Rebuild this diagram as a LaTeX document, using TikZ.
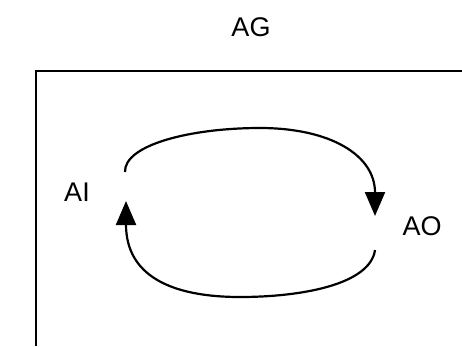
\documentclass[tikz,border=0pt]{standalone}
\usepackage{fontspec}
\setmainfont{Liberation Sans}
\usetikzlibrary{arrows.meta}
\begin{document}
\begin{tikzpicture}[x=1pt,y=-1pt,
  lbl/.style={inner sep=0pt,font=\fontsize{27}{31}\selectfont},
  frame/.style={line width=2pt},
  arc/.style={line width=2.2pt,-{Triangle[length=24pt,width=20pt]}}]
\useasboundingbox (0,0) rectangle (462,346);
\node[lbl] (AG) at (251,27) {AG};
\node[lbl] (AI) at (77,192) {AI};
\node[lbl] (AO) at (422,226) {AO};
\coordinate (fa) at (36,346);
\coordinate (fb) at (36,71);
\coordinate (fc) at (462,71);
\draw[frame] (fa) -- (fb) -- (fc);
\coordinate (t1) at (125,172);
\coordinate (t2) at (375,216);
\coordinate (b1) at (375,250);
\coordinate (b2) at (126,201);
\draw[arc] (t1) .. controls (124,145) and (190,128) .. (260,128)
  .. controls (330,128) and (375,155) .. (t2);
\draw[arc] (b1) .. controls (370,285) and (300,297) .. (240,297)
  .. controls (170,297) and (126,275) .. (b2);
\end{tikzpicture}
\end{document}
